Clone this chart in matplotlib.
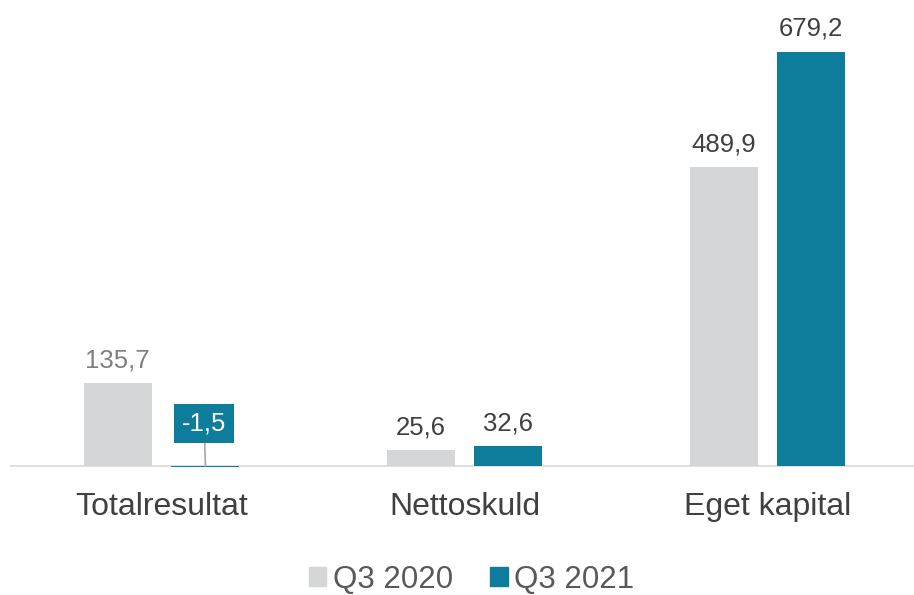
import numpy as np
import matplotlib.pyplot as plt
from matplotlib.patches import Patch

categories = ['Totalresultat', 'Nettoskuld', 'Eget kapital']
q3_2020 = [135.7, 25.6, 489.9]
q3_2021 = [-1.5, 32.6, 679.2]
series_names = ['Q3 2020', 'Q3 2021']

GREY = '#D5D6D8'
TEAL = '#0E7D9C'

plt.rcParams['font.family'] = ['Liberation Sans', 'DejaVu Sans']

fig = plt.figure(figsize=(9.14, 5.95), dpi=100)
px = 0.6096  # pixels per unit
ymin, ymax = -10, 764.4
ax = fig.add_axes([10 / 914, (129 + ymin * px) / 595, 909 / 914, (466 - ymin * px) / 595])
ax.set_xlim(-0.5, 2.5)
ax.set_ylim(ymin, ymax)

x = np.arange(len(categories))
w = 0.224
off = 0.145
ax.bar(x - off, q3_2020, w, color=GREY)
ax.bar(x + off, q3_2021, w, color=TEAL)
ax.axhline(0, color='#D9D9D9', lw=1.2, zorder=0)

for xi, v in zip(x, q3_2020):
    col = '#7F7F7F' if xi == 0 else '#404040'
    ax.annotate(f'{v:.1f}'.replace('.', ','), (xi - off, v), xytext=(0, 8),
                textcoords='offset points', ha='center', va='bottom',
                fontsize=18.5, color=col)

for xi, v in zip(x, q3_2021):
    label = f'{v:.1f}'.replace('.', ',')
    if v < 0:
        ax.annotate(label, (xi + off, 0), xytext=(-1, 30.5),
                    textcoords='offset points', ha='center', va='center',
                    fontsize=18.5, color='white',
                    bbox=dict(boxstyle='square,pad=0.3', fc=TEAL, ec='none'),
                    arrowprops=dict(arrowstyle='-', color='#A6A6A6', lw=1.2,
                                    shrinkA=0, shrinkB=0))
    else:
        ax.annotate(label, (xi + off, v), xytext=(0, 8),
                    textcoords='offset points', ha='center', va='bottom',
                    fontsize=18.5, color='#404040')

ax.set_xticks(x)
ax.set_xticklabels(categories, fontsize=23, color='#404040')
ax.tick_params(axis='x', length=0, pad=14)
ax.set_yticks([])
for s in ax.spines.values():
    s.set_visible(False)

handles = [Patch(color=GREY), Patch(color=TEAL)]
fig.legend(handles, series_names, loc='center', bbox_to_anchor=(0.516, 0.026),
           ncol=2, frameon=False, fontsize=22.5, labelcolor='#595959',
           handlelength=0.55, handleheight=0.55, handletextpad=0.2,
           columnspacing=1.2)

fig.savefig('out.png', dpi=100)
